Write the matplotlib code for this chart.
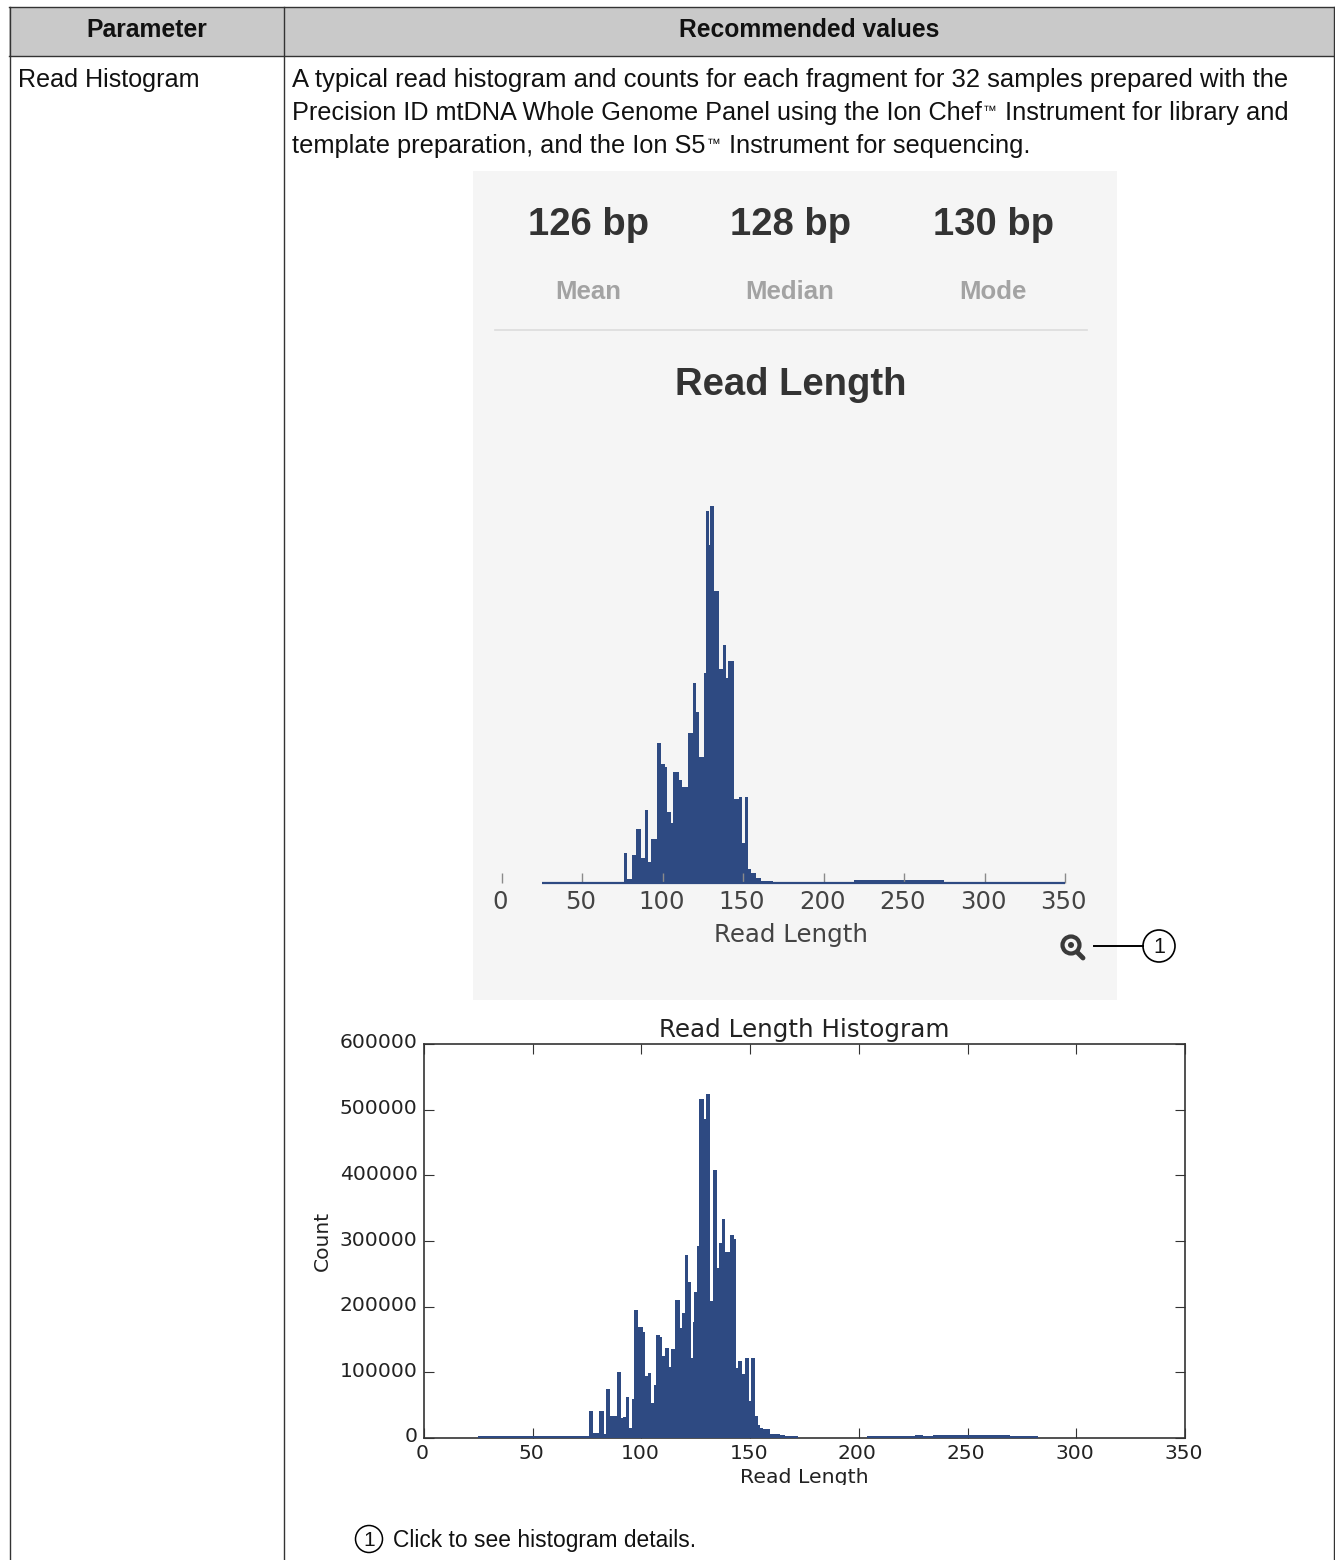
import matplotlib
matplotlib.use("Agg")
import matplotlib.pyplot as plt
from matplotlib.patches import Circle, Rectangle
from matplotlib.transforms import Bbox, ScaledTranslation

# large histogram: bin edges in bp, one count per bin
bin_edges = [25, 73.7, 76.0, 77.7, 80.4, 82.7, 83.8, 85.5, 88.8, 90.5, 91.6, 92.8, 94.5, 95.7, 96.8,
             98.5, 100.6, 101.8, 102.9, 104.6, 105.8, 106.9, 108.6, 109.6, 110.9, 112.5, 113.6,
             115.3, 117.6, 118.7, 119.9, 121.6, 122.6, 123.9, 124.3, 125.5, 126.6, 128.7, 129.5,
             131.7, 132.9, 134.6, 135.6, 136.9, 138.5, 140.8, 142.4, 143.6, 144.6, 146.3, 147.6,
             149.7, 150.3, 152.4, 153.7, 154.7, 156.0, 159.0, 163.6, 166.0, 172.0]
bin_counts = [2500, 3500, 41600, 7600, 41600, 6000, 74600, 34000, 101000, 30000, 32000, 62000, 15000,
              60000, 195000, 168500, 161000, 95000, 99500, 53000, 81000, 157000, 154000, 125000,
              137000, 108600, 135500, 210000, 167000, 191000, 279000, 238000, 122000, 176000,
              223000, 292000, 517000, 486000, 524000, 208000, 408000, 259000, 297000, 333000,
              284000, 309000, 303000, 107000, 118000, 97000, 122000, 56000, 122000, 34000,
              20000, 15000, 13000, 6000, 4000, 2500]
# the long tail past 200 bp
tail_edges = [203.8, 225.7, 229.5, 234.0, 269.6, 282.6]
tail_counts = [2500, 5000, 2500, 4500, 2500]

# the small screenshot is coarser, so it gets its own reading
small_edges = [24.6, 76.0, 77.8, 80.7, 83.6, 86.3, 88.8, 90.9, 92.5, 96.1, 99.0, 101.4, 102.3, 104.8,
               106.4, 109.9, 111.6, 115.7, 118.8, 120.9, 122.6, 125.5, 127.1, 128.4, 129.2, 131.9,
               134.8, 137.5, 139.1, 140.6, 144.1, 147.4, 149.5, 150.9, 153.0, 155.1, 158.2, 161.3, 168.5]
small_counts = [1800, 41400, 5500, 39000, 74500, 34500, 101000, 28500, 60700, 194000, 165600, 161000,
                99000, 83000, 154000, 142600, 134000, 208000, 278000, 237000, 175000, 292000, 517000,
                470000, 524000, 406000, 297000, 331000, 285000, 308000, 117000, 120000, 55000, 120000,
                19000, 14000, 7000, 2300]
small_tail_edges = [219, 275]
small_tail_counts = [3500]

x_ticks = [0, 50, 100, 150, 200, 250, 300, 350]
y_ticks = [0, 100000, 200000, 300000, 400000, 500000, 600000]
stats_values = ['126 bp', '128 bp', '130 bp']
stats_names = ['Mean', 'Median', 'Mode']

W, H = 1335, 1560
BAR = '#2e4a82'
BODY = 'Liberation Sans'

fig = plt.figure(figsize=(W / 100, H / 100), dpi=100, facecolor='white')


def px_axes(left, top, right, bottom, **kw):
    return fig.add_axes([left / W, 1 - bottom / H, (right - left) / W, (bottom - top) / H], **kw)


def nudge(labels, dx, dy):
    # move tick labels by whole pixels, dpi is 100
    for lab in labels:
        lab.set_transform(lab.get_transform() + ScaledTranslation(dx / 100, dy / 100, fig.dpi_scale_trans))


# page: table frame, panel and text, in pixels
page = fig.add_axes([0, 0, 1, 1], zorder=0)
page.set_xlim(0, W)
page.set_ylim(H, 0)
page.axis('off')

page.add_patch(Rectangle((9, 7), 1325, 49, fc='#c9c9c9', ec='none'))
page.plot([9, 1334], [7, 7], color='#333333', lw=1)
page.plot([9, 1334], [56, 56], color='#333333', lw=1)
for xp in [9.5, 284, 1334]:
    page.plot([xp, xp], [7, H], color='#333333', lw=1)

page.text(147, 37, 'Parameter', family=BODY, weight='bold', fontsize=17.8, ha='center', color='#111111')
page.text(809, 37, 'Recommended values', family=BODY, weight='bold', fontsize=17.7, ha='center', color='#111111')
page.text(18, 87, 'Read Histogram', family=BODY, fontsize=18.1, color='#111111')

page.text(292, 87, 'A typical read histogram and counts for each fragment for 32 samples prepared with the',
          family=BODY, fontsize=18.44, color='#111111')
page.text(292, 120, 'Precision ID mtDNA Whole Genome Panel using the Ion Chef',
          family=BODY, fontsize=18.15, color='#111111')
page.text(983, 115, '\u2122', family=BODY, fontsize=10, color='#111111')
page.text(1005, 120, 'Instrument for library and', family=BODY, fontsize=18.4, color='#111111')
page.text(292, 153, 'template preparation, and the Ion S5', family=BODY, fontsize=18.3, color='#111111')
page.text(707, 148, '\u2122', family=BODY, fontsize=10, color='#111111')
page.text(729, 153, 'Instrument for sequencing.', family=BODY, fontsize=18.3, color='#111111')

# grey screenshot panel
page.add_patch(Rectangle((473, 171), 644, 829, fc='#f5f5f5', ec='none'))
for xp, val, name in zip([589, 791, 994], stats_values, stats_names):
    page.text(xp, 235, val, family=BODY, weight='bold', fontsize=27.5, ha='center', color='#333333')
    page.text(xp - 1, 299, name, family=BODY, weight='bold', fontsize=18.5, ha='center', color='#a3a3a3')
page.plot([495, 1087], [330, 330], color='#dcdcdc', lw=1.2)
page.text(791, 395, 'Read Length', family=BODY, weight='bold', fontsize=27.5, ha='center', color='#333333')

# zoom icon and callouts
page.add_patch(Circle((1071, 945), 8.5, fc='none', ec='#3a3a3a', lw=3))
page.add_patch(Circle((1071, 945), 3, fc='#3a3a3a', ec='none'))
page.plot([1077, 1083], [952, 958], color='#3a3a3a', lw=3.5, solid_capstyle='round')
page.plot([1094, 1143], [946, 946], color='black', lw=1.4)
page.add_patch(Circle((1159, 946), 16, fc='white', ec='black', lw=1.2))
page.text(1159, 953, '1', family=BODY, fontsize=15.5, ha='center', color='#111111')
page.add_patch(Circle((369, 1539), 13.5, fc='white', ec='black', lw=1.1))
page.text(369, 1546, '1', family=BODY, fontsize=15, ha='center', color='#111111')
page.text(393, 1547, 'Click to see histogram details.', family=BODY, fontsize=16.4, color='#111111')

# small histogram inside the panel
small = px_axes(502, 451, 1065, 883, zorder=1)
small.patch.set_alpha(0)
small.stairs(small_counts, small_edges, fill=True, color=BAR)
small.stairs(small_tail_counts, small_tail_edges, fill=True, color=BAR)
small.hlines(0, small_edges[0], x_ticks[-1], color=BAR, lw=1.6, clip_on=False)
small.set_xlim(0, 350)
small.set_ylim(0, 600000)
for side in small.spines:
    small.spines[side].set_visible(False)
small.set_yticks([])
small.set_xticks(x_ticks)
small.tick_params(axis='x', direction='in', length=7, width=1, color='#8a8a8a', pad=5,
                  labelsize=17.6, labelcolor='#444444')
nudge(small.get_xticklabels(), -1.5, 0)
small.set_xlabel('Read Length', fontsize=17.6, color='#444444')
small.xaxis.set_label_coords((791 - 502) / 563, -0.092)

# large histogram
big = px_axes(424, 1044, 1185, 1438, zorder=1)
big.stairs(bin_counts, bin_edges, fill=True, color=BAR, zorder=3)
big.stairs(tail_counts, tail_edges, fill=True, color=BAR, zorder=3)
big.set_xlim(0, 350)
big.set_ylim(0, 600000)
big.set_xticks(x_ticks)
big.set_yticks(y_ticks)
big.ticklabel_format(style='plain', axis='y')
big.tick_params(direction='in', top=True, right=True, length=7, width=0.8, color='#333333',
                labelsize=14.6, labelcolor='#222222', pad=6)
big.tick_params(axis='x', pad=4)
nudge(big.get_yticklabels(), 2, 3)
nudge(big.get_xticklabels(), -1.5, 0)
for side in big.spines:
    big.spines[side].set_linewidth(1.2)
    big.spines[side].set_color('#333333')
big.set_title('Read Length Histogram', fontsize=17.7, color='#222222', pad=5)
big.set_ylabel('Count', fontsize=14.6, color='#222222', labelpad=6)
xlab = big.set_xlabel('Read Length', fontsize=14.7, color='#222222', labelpad=4)
# the descender of the label is cut off in the original
xlab.set_clip_box(Bbox([[0, H - 1485], [W, H]]))
xlab.set_clip_on(True)

fig.savefig('out.png', dpi=100)
